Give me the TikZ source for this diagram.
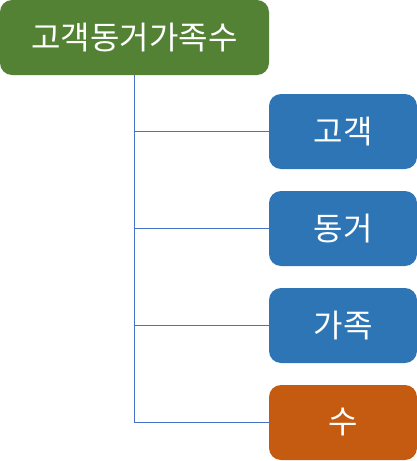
\documentclass[tikz,border=0pt]{standalone}
\usepackage{fontspec}
\newfontfamily\krfont{Noto Sans CJK KR}
\definecolor{rootgreen}{HTML}{548235}
\definecolor{boxblue}{HTML}{2E75B6}
\definecolor{boxorange}{HTML}{C55A11}
\definecolor{linkblue}{HTML}{4472C4}
\begin{document}
\begin{tikzpicture}[x=1pt,y=-1pt]
\tikzstyle{every node}+=[inner sep=0pt, text=white, font=\krfont\fontsize{32}{36}\selectfont]
\tikzstyle{box}=[rounded corners=12pt, minimum width=148pt, minimum height=75pt, fill=boxblue]
\useasboundingbox (0,0) rectangle (417,461);
\node [box, fill=rootgreen, minimum width=269pt] (root) at (134.5,37.5) {고객동거가족수};
\node [box] (gogaek) at (343,131.5) {고객};
\node [box] (donggeo) at (343,228.5) {동거};
\node [box] (gajok) at (343,325.5) {가족};
\node [box, fill=boxorange] (su) at (343,422.5) {수};
\draw [linkblue, line width=1pt] (root.south) |- (gogaek.west);
\draw [linkblue, line width=1pt] (root.south) |- (donggeo.west);
\draw [linkblue, line width=1pt] (root.south) |- (gajok.west);
\draw [linkblue, line width=1pt] (root.south) |- (su.west);
\end{tikzpicture}
\end{document}
